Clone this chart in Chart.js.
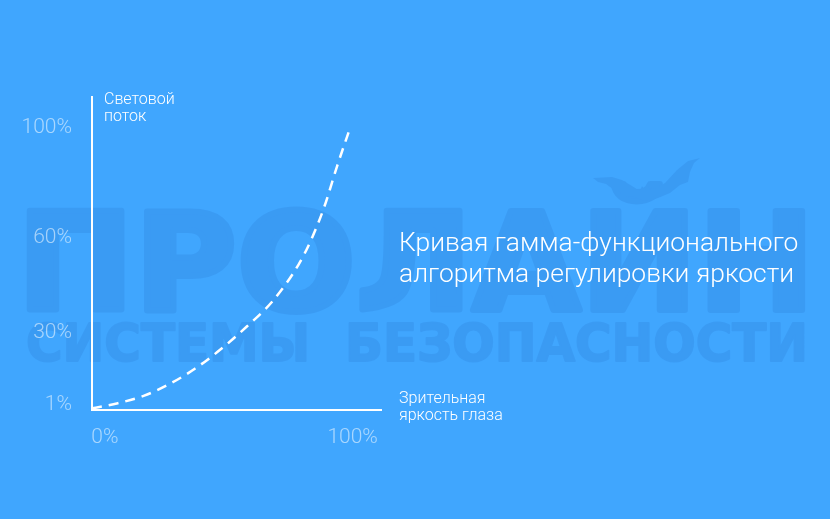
<!DOCTYPE html>
<html>
<head>
<meta charset="utf-8">
<script src="https://cdn.jsdelivr.net/npm/chart.js@4"></script>
<style>
  html, body { margin: 0; padding: 0; background: #40a6fe; }
  #wrap { width: 830px; height: 519px; position: relative; }
</style>
</head>
<body>
<div id="wrap"><canvas id="gamma-chart" width="830" height="519"></canvas></div>
<script>
// Eye brightness (x, %) and light flux (y, %)
const brightness = [0, 10, 20, 30, 40, 50, 60, 70, 80, 85, 90, 95, 100];
const lightFlux = [0.6, 2.4, 5.0, 9.2, 14.7, 21.6, 29.6, 38.6, 51.5, 60.5, 72, 86.5, 100];

// Tick labels and where they sit on the scales
const yTickValues = [1.8, 27.3, 61, 100];
const yTickLabels = ['1%', '30%', '60%', '100%'];
const xTickValues = [5, 101];
const xTickLabels = ['0%', '100%'];

const yAxisTitle = ['Световой', 'поток'];
const xAxisTitle = ['Зрительная', 'яркость глаза'];
const chartTitle = ['Кривая гамма-функционального', 'алгоритма регулировки яркости'];

const FONT = 'Roboto, "Open Sans", sans-serif';

// watermark is drawn opaque on its own canvas, then laid on with low alpha
function buildWatermark(w, h) {
    const c = document.createElement('canvas');
    c.width = w;
    c.height = h;
    const ctx = c.getContext('2d');
    ctx.fillStyle = '#1a5ab8';
    ctx.strokeStyle = '#1a5ab8';
    ctx.lineJoin = 'round';

    // big word
    ctx.font = 'bold 136px "DejaVu Sans", sans-serif';
    let tw = ctx.measureText('ПРОЛАЙН').width;
    ctx.save();
    ctx.translate(17, 310);
    ctx.scale(798 / tw, 1);
    ctx.lineWidth = 6;
    ctx.fillText('ПРОЛАЙН', 0, 0);
    ctx.strokeText('ПРОЛАЙН', 0, 0);
    ctx.restore();

    // sub line
    ctx.font = 'bold 52px "DejaVu Sans", sans-serif';
    const sub = 'СИСТЕМЫ  БЕЗОПАСНОСТИ';
    tw = ctx.measureText(sub).width;
    ctx.save();
    ctx.translate(26, 361);
    ctx.scale(782 / tw, 1);
    ctx.lineWidth = 2;
    ctx.fillText(sub, 0, 0);
    ctx.strokeText(sub, 0, 0);
    ctx.restore();

    // bat
    const bat = [
        [593, 178], [612, 177], [622, 180], [632, 186], [640, 191],
        [642, 186], [645, 190], [648, 186], [650, 190],
        [652, 190], [665, 183], [677, 170], [688, 161], [700, 158],
        [694, 163], [690, 172], [688, 182], [680, 185], [670, 193],
        [658, 198], [650, 201], [642, 200], [634, 197], [628, 196],
        [622, 190], [614, 190], [606, 184], [598, 182]
    ];
    ctx.beginPath();
    bat.forEach((p, i) => i ? ctx.lineTo(p[0], p[1]) : ctx.moveTo(p[0], p[1]));
    ctx.closePath();
    ctx.fill();
    return c;
}

// background colour + faint company watermark
const backdrop = {
    id: 'backdrop',
    beforeDraw(chart) {
        const ctx = chart.ctx;
        ctx.save();
        ctx.fillStyle = '#40a6fe';
        ctx.fillRect(0, 0, chart.width, chart.height);
        ctx.globalAlpha = 0.14;
        ctx.drawImage(buildWatermark(chart.width, chart.height), 0, 0);
        ctx.restore();
    }
};

// axis titles and headline
const labels = {
    id: 'labels',
    afterDraw(chart) {
        const ctx = chart.ctx;
        ctx.save();
        ctx.fillStyle = '#ffffff';
        ctx.textAlign = 'left';
        ctx.textBaseline = 'alphabetic';

        ctx.font = '300 16px ' + FONT;
        ctx.fillText(yAxisTitle[0], 104, 104);
        ctx.fillText(yAxisTitle[1], 104, 121);

        ctx.fillText(xAxisTitle[0], 399, 403);
        ctx.fillText(xAxisTitle[1], 399, 420);

        ctx.font = '300 26.4px ' + FONT;
        ctx.fillText(chartTitle[0], 399, 251);
        ctx.fillText(chartTitle[1], 399, 282);
        ctx.restore();
    }
};

new Chart(document.getElementById('gamma-chart'), {
    type: 'line',
    data: {
        datasets: [{
            data: brightness.map((x, i) => ({ x: x, y: lightFlux[i] })),
            borderColor: '#ffffff',
            borderWidth: 2.5,
            borderDash: [10, 7],
            pointRadius: 0,
            fill: false,
            cubicInterpolationMode: 'monotone'
        }]
    },
    options: {
        responsive: false,
        animation: false,
        layout: { padding: { left: 0, top: 97, right: 449, bottom: 0 } },
        plugins: {
            legend: { display: false },
            tooltip: { enabled: false }
        },
        scales: {
            x: {
                type: 'linear',
                min: 0,
                max: 112,
                grid: { display: false, drawTicks: false },
                border: { color: '#ffffff', width: 2 },
                afterBuildTicks: function(scale) {
                    scale.ticks = xTickValues.map(v => ({ value: v }));
                },
                afterFit: function(scale) { scale.height = 109; },
                ticks: {
                    padding: 15,
                    maxRotation: 0,
                    autoSkip: false,
                    color: 'rgba(255, 255, 255, 0.55)',
                    font: { family: FONT, size: 21, weight: '300' },
                    callback: function(value) {
                        return xTickLabels[xTickValues.indexOf(value)];
                    }
                }
            },
            y: {
                type: 'linear',
                min: 0,
                max: 111,
                grid: { display: false, drawTicks: false },
                border: { color: '#ffffff', width: 2 },
                afterBuildTicks: function(scale) {
                    scale.ticks = yTickValues.map(v => ({ value: v }));
                },
                afterFit: function(scale) { scale.width = 92; },
                ticks: {
                    padding: 20,
                    autoSkip: false,
                    color: 'rgba(255, 255, 255, 0.55)',
                    font: { family: FONT, size: 21, weight: '300' },
                    callback: function(value) {
                        return yTickLabels[yTickValues.indexOf(value)];
                    }
                }
            }
        }
    },
    plugins: [backdrop, labels]
});
</script>
</body>
</html>
